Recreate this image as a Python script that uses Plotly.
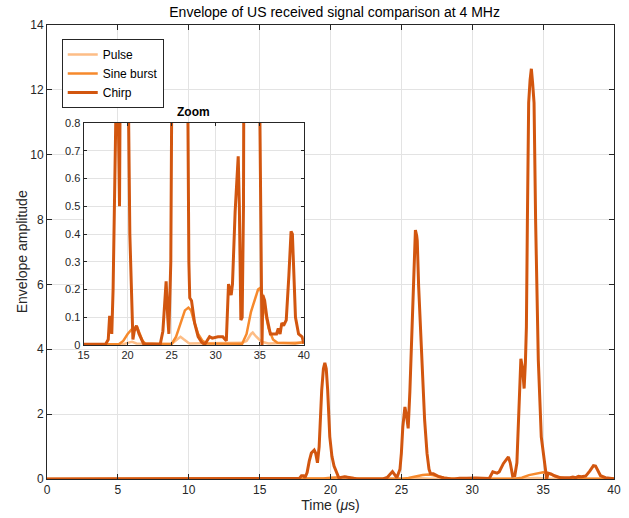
import plotly.graph_objects as go

# ---- data ----
chirp_t = [0, 17.5, 17.8, 17.95, 18.1, 18.2, 18.35, 18.5, 18.65, 18.85, 18.95, 19.08, 19.2, 19.38, 19.5,
           19.6, 19.7, 19.8, 19.95, 20.1, 20.25, 20.6, 20.75, 21.0, 21.3, 21.8, 23.7, 24.0, 24.37, 24.55,
           24.68, 24.9, 25.0, 25.1, 25.25, 25.38, 25.48, 25.6, 25.69, 25.83, 25.89, 25.99, 26.08, 26.12,
           26.22, 26.41, 26.64, 26.81, 26.95, 27.05, 27.25, 27.6, 28.0, 28.4, 28.75,
           29.1, 29.3, 29.6, 30.25, 30.8, 31.2, 31.45, 31.6, 31.75, 31.9, 32.2, 32.55, 32.68, 32.85, 33.0,
           33.15, 33.3, 33.43, 33.55, 33.66, 33.75, 33.82, 33.89, 33.98, 34.08, 34.17, 34.26, 34.36, 34.47,
           34.66, 34.87, 35.05, 35.25, 35.35,
           35.55, 35.8, 36.2, 36.9, 37.1, 37.3, 37.5, 37.7, 38.0, 38.3, 38.55, 38.7, 39.05, 39.4, 39.8, 40]
chirp_v = [0.003, 0.003, 0.02, 0.1, 0.1, 0.04, 0.2, 0.55, 0.8, 0.89, 0.8, 0.5, 1.0, 2.74, 3.4,
           3.58, 3.4, 2.74, 1.3, 0.7, 0.4, 0.02, 0.05, 0.07, 0.04, 0.005, 0.003, 0.05, 0.23, 0.1,
           0.04, 0.3, 0.8, 1.6, 2.22, 1.9, 1.56, 2.7, 3.87, 5.92, 7.0, 7.68, 7.5, 7.35,
           5.92, 3.87, 1.82, 0.79, 0.3, 0.17, 0.16, 0.08, 0.03, 0.01, 0.002,
           0.02, 0.03, 0.025, 0.03, 0.03, 0.015, 0.22, 0.2, 0.18, 0.22, 0.48, 0.68, 0.5, 0.09, 0.1,
           0.5, 2.5, 3.71, 3.4, 2.79, 3.6, 4.69, 7.97, 11.6, 12.3, 12.65, 12.2, 11.6, 7.97,
           3.66, 1.3, 0.6, 0.0, 0.18,
           0.16, 0.1, 0.04, 0.04, 0.06, 0.04, 0.08, 0.07, 0.09, 0.25, 0.41, 0.4, 0.1, 0.04, 0.03, 0.005]

sine_t = [0, 19.0, 19.5, 20.0, 20.5, 20.9, 21.1, 21.4, 21.7, 22.0, 25.0, 25.5, 26.0, 26.5, 26.9, 27.2,
          27.5, 28.0, 28.5, 29.0, 33.0, 33.5, 34.0, 34.4, 34.8, 35.0, 35.3, 35.6, 36.0, 36.5, 37.0, 39.0, 40]
sine_v = [0.003, 0.003, 0.015, 0.04, 0.058, 0.064, 0.063, 0.04, 0.015, 0.005, 0.004, 0.03, 0.08, 0.125,
          0.135, 0.125, 0.09, 0.04, 0.015, 0.006, 0.005, 0.04, 0.12, 0.16, 0.2, 0.205, 0.18, 0.12, 0.06,
          0.02, 0.008, 0.006, 0.01]

pulse_t = [0, 19.5, 20.0, 20.5, 21.0, 25.0, 25.6, 26.0, 26.4, 27.0, 33.0, 33.5, 34.0, 34.2, 34.6, 35.2,
           36.0, 39.0, 40]
pulse_v = [0.003, 0.003, 0.008, 0.012, 0.006, 0.004, 0.02, 0.03, 0.02, 0.006, 0.008, 0.015, 0.04, 0.045,
           0.03, 0.012, 0.006, 0.008, 0.01]

names = ["Pulse", "Sine burst", "Chirp"]
colors = ["#fdbd86", "#f6892c", "#d2560f"]
widths = [2.5, 2.5, 3]

series = [(pulse_t, pulse_v), (sine_t, sine_v), (chirp_t, chirp_v)]

fig = go.Figure()
for (t, v), n, c, w in zip(series, names, colors, widths):
    fig.add_trace(go.Scatter(x=t, y=v, mode="lines", name=n, line=dict(color=c, width=w),
                             xaxis="x", yaxis="y"))
for (t, v), n, c, w in zip(series, names, colors, widths):
    fig.add_trace(go.Scatter(x=t, y=v, mode="lines", name=n, line=dict(color=c, width=w),
                             xaxis="x2", yaxis="y2", showlegend=False, cliponaxis=True))

axcol = "#262626"
gridcol = "#e3e3e3"
fam = "Liberation Sans, Arial, sans-serif"

common = dict(showline=True, linecolor=axcol, linewidth=1, mirror="ticks", ticks="inside",
              tickcolor=axcol, showgrid=True, gridcolor=gridcol, gridwidth=1, zeroline=False)
main_tf = dict(family=fam, size=12, color=axcol)
inset_tf = dict(family=fam, size=11, color=axcol)

fig.update_layout(
    width=629, height=518,
    margin=dict(l=47, r=8, t=25, b=39),
    paper_bgcolor="white", plot_bgcolor="white",
    font=dict(family=fam, color=axcol),
    title=dict(text="Envelope of US received signal comparison at 4 MHz", x=0.532, xanchor="center",
               y=0.977, yanchor="middle", font=dict(size=14, color="#000000")),
    xaxis=dict(range=[0, 40], tickvals=[0, 5, 10, 15, 20, 25, 30, 35, 40], ticklen=5, tickfont=main_tf,
               title=dict(text="Time (<i>μ</i>s)", font=dict(size=14, color=axcol), standoff=3),
               domain=[0, 1], **common),
    yaxis=dict(range=[0, 14], tickvals=[0, 2, 4, 6, 8, 10, 12, 14], ticklen=5, tickfont=main_tf,
               domain=[0, 1], **common),
    xaxis2=dict(range=[15, 40], tickvals=[15, 20, 25, 30, 35, 40], domain=[0.0645, 0.453],
                anchor="y2", ticklen=3, tickfont=inset_tf, **common),
    yaxis2=dict(range=[0, 0.8], tickvals=[0, 0.1, 0.2, 0.3, 0.4, 0.5, 0.6, 0.7, 0.8],
                ticktext=["0", "0.1", "0.2", "0.3", "0.4", "0.5", "0.6", "0.7", "0.8"],
                domain=[0.295, 0.784], anchor="x2", ticklen=3, tickfont=inset_tf, **common),
    legend=dict(x=0.026, y=0.969, xanchor="left", yanchor="top", bgcolor="white",
                bordercolor=axcol, borderwidth=1, font=dict(size=12, color="#000000"),
                tracegroupgap=0, itemwidth=30),
    showlegend=True,
    annotations=[
        dict(text="<b>Zoom</b>", x=0.2585, y=0.808, xref="paper", yref="paper",
             showarrow=False, xanchor="center", yanchor="middle",
             font=dict(size=12, color="#000000")),
        dict(text="Envelope amplitude", x=-0.0436, y=0.5, xref="paper", yref="paper",
             textangle=-90, showarrow=False, xanchor="center", yanchor="middle",
             font=dict(size=14, color=axcol)),
    ],
)

fig.write_html("out.html")
